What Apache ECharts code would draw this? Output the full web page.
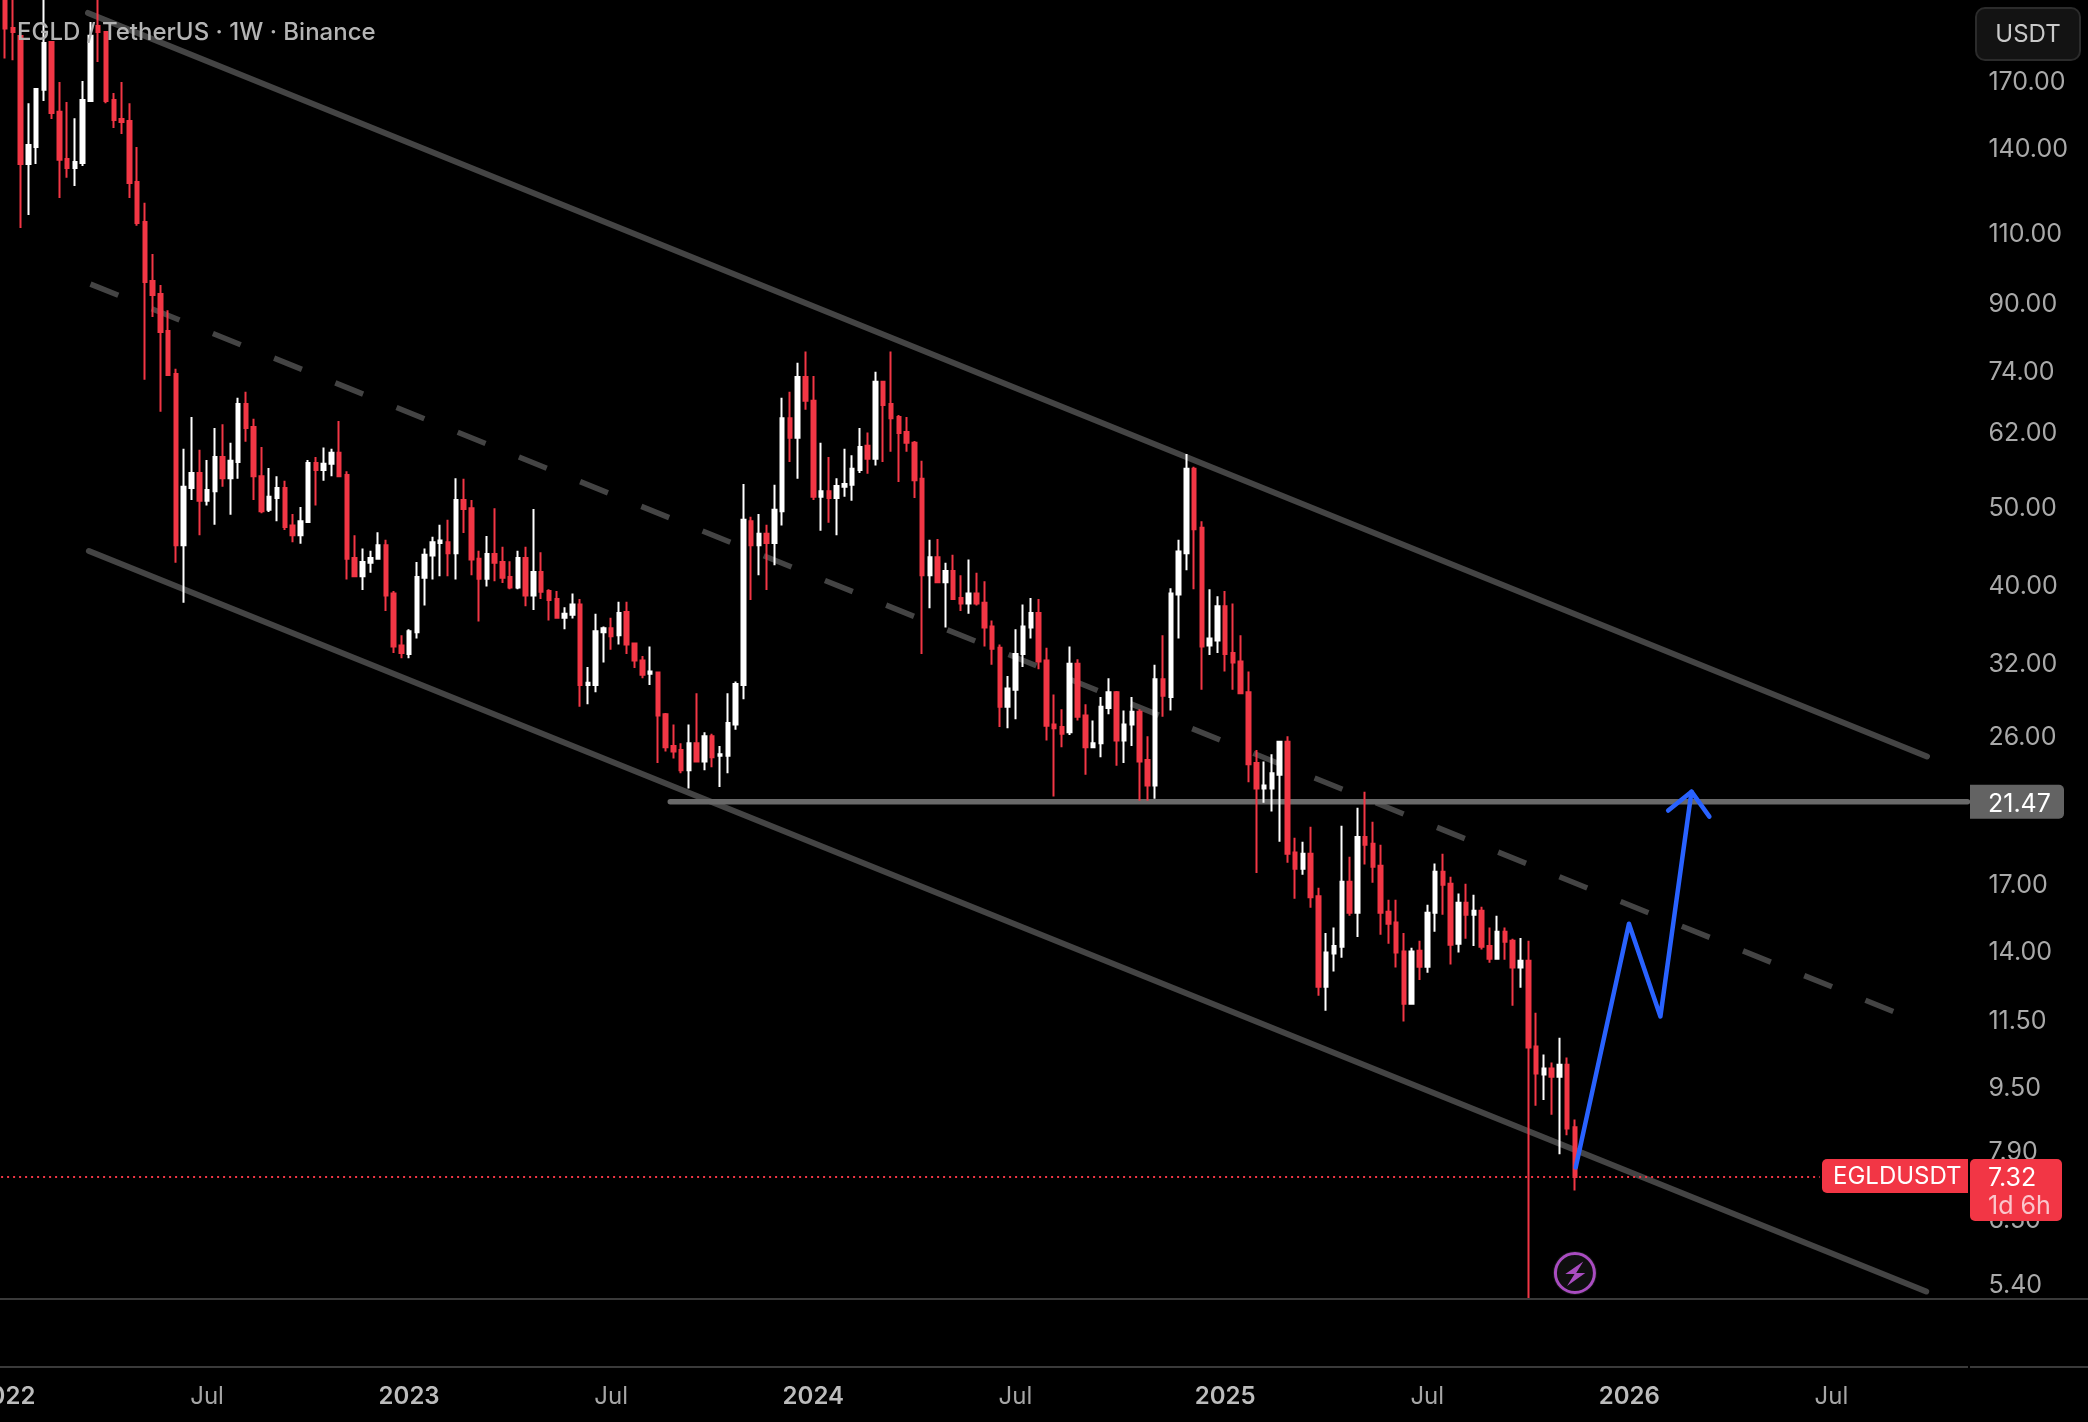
<!DOCTYPE html>
<html>
<head>
<meta charset="utf-8">
<title>EGLD / TetherUS 1W</title>
<script src="https://cdn.jsdelivr.net/npm/echarts@6/dist/echarts.min.js"></script>
<style>
  html, body { margin: 0; padding: 0; background: #000; }
  #chart { width: 2088px; height: 1422px; }
</style>
</head>
<body>
<div id="chart"></div>
<script>
// Weekly EGLD/USDT candles, one value per week starting 2022-01-03.
const opens = [
  225,197.5,193,133.7,140.4,165.4,189.7,155.3,135.6,132.2,
  134.1,160.2,198.6,195.2,160.6,152.1,151.2,127,113.2,95.6,
  92.1,82.8,73.2,44.8,52.8,55.1,50.9,52.3,57.7,54.3,
  56.9,67.2,62.9,54.6,49.6,51.3,52.8,47.4,46.1,47.9,
  56.7,55.6,56.6,58.4,54.8,43.2,41,42.6,43.1,44.8,
  39,33.6,32.8,34.9,40.8,43.5,45.1,45.2,43.8,51,
  49.8,43.1,40.7,43.7,42.7,40.9,39.7,43.2,38.8,41.5,
  39.3,38.4,36.4,36.7,37.8,30,30,34.9,35.3,34.6,
  37,33.8,32.2,31,31.1,27.6,25.2,24.9,23.5,25.4,
  24.1,25.9,24.5,24.5,26.8,30,48,44.8,46.3,45.1,
  49.4,64.5,61,72.6,67.8,51.5,52.3,51.3,53,53.3,
  55.6,59.6,57.4,71.6,67.2,64.7,62,60.1,54.2,41.1,
  43.3,40.3,41.6,38.5,37.9,39,38,35.5,33.4,28.2,
  29.6,32.8,35.4,36.9,32.2,26.8,26.6,26.2,31.9,27.5,
  25.1,25.4,28.1,29.4,25.6,26.8,27.8,24.2,22.5,30.5,
  29,38.9,43.8,55.8,47.1,33.6,34.1,37.6,32.9,32.1,
  29.4,24,22.3,22.3,23.2,25.5,18.56,17.72,18.5,16.37,
  12.63,13.89,14.17,17.07,15.62,19.41,19.03,17.87,15.66,15.18,
  13.97,12.03,14,13.38,15.62,17.56,16.97,14.29,16.07,15.53,
  15.71,14.2,13.69,14.79,14.41,13.35,13.61,10.64,9.82,9.99,
  9.76,10.1,8.44
];
const closes = [
  197.2,195.2,133.7,141.2,165.8,189.2,154.8,135.3,132.2,134.5,
  160.6,193.2,195.2,160.2,151.7,150.8,126.6,112.9,95.3,91.8,
  82.6,73,44.8,53,55.1,50.9,52.5,57.7,54.3,57.1,
  67.2,62.7,54.6,49.4,51.5,52.8,47.2,46.1,48,56.7,
  55.6,56.6,58.4,54.6,43.1,41,42.7,43.2,44.8,38.8,
  33.5,32.9,35,40.9,43.6,45.2,45.4,43.8,51,49.7,
  43,40.7,43.7,42.6,40.8,39.7,43.2,38.8,41.5,39.2,
  38.3,36.4,36.8,37.8,30,30.2,35,35.3,34.5,36.9,
  33.7,32.2,30.9,31.2,27.5,25.1,24.8,23.5,25.4,24.1,
  25.9,24.4,24.6,26.9,30.1,48.2,44.8,46.3,45.1,49.6,
  64.5,61,72.6,67.8,51.5,52.3,51.3,53.1,53.4,55.8,
  59.4,57.4,71.6,67,64.5,61.8,60.1,54,41.1,43.3,
  40.3,41.6,38.4,37.9,39,37.9,35.4,33.3,28.2,29.7,
  32.8,35.5,36.9,32.1,26.7,26.5,26.1,31.9,27.4,25.1,
  25.4,28.2,29.4,25.6,26.8,27.8,24.1,22.5,30.5,29.1,
  39,44,55.8,46.9,33.5,34.3,37.6,32.8,32,29.3,
  23.9,22.3,22.5,23.3,25.5,18.5,17.72,18.5,16.32,12.63,
  13.93,14.2,17.07,15.62,19.41,18.98,17.82,15.62,15.13,13.93,
  12.03,13.97,13.38,15.62,17.56,16.92,14.25,16.07,15.53,15.71,
  14.17,13.69,14.79,14.37,13.35,13.61,10.61,9.85,9.99,9.76,
  10.1,8.41,7.32
];
const lows = [
  180.9,180.1,111.3,115.5,133.7,160.2,152.1,121.3,128.5,125.5,
  132.9,159.7,179.1,159.2,148.3,145.7,121.3,112,72,86.2,
  65.7,72.8,42.6,38,51,46.1,50.2,47.5,53,48.9,
  54.2,60.3,51,49.1,49.3,48,46.8,45.2,45,47.8,
  50.2,53.9,54.6,54.5,40.6,41,39.4,41.4,43,37.1,
  32.9,32.4,32.4,34.3,37.7,40.6,41,41,40.6,46.4,
  41.1,36,39.8,40.4,40.2,39.5,39.5,37.6,37.2,38.4,
  36.1,36.3,35.2,36.3,28.2,28.4,29.4,32,33.2,33.7,
  32.8,31.5,30.6,30,24,24.8,24.3,23.3,22.3,24.1,
  23.5,23.7,22.4,23.3,26.4,28.8,38.3,41.1,39.4,42.3,
  47.4,56.9,54.2,66.1,51,46.7,47.8,46.1,51.5,50.9,
  55.1,55,56.3,56.9,58.6,53.7,58.6,51.3,32.8,37.4,
  40.2,35.4,38.3,37.1,36.8,37.7,33.5,31.8,26.6,26.5,
  27.2,31.6,34.3,31.4,25.6,21.8,25.1,26,27.1,23.2,
  25.1,24.4,27.6,23.8,24,25.2,21.53,21.53,21.65,27.4,
  27.9,34.3,41.7,39.5,29.6,32.7,32.9,31.2,29.6,29.3,
  22.7,17.5,21.41,20.87,19.14,18.03,16.26,17.42,15.84,12.31,
  11.79,13.19,13.73,15.48,14.57,17.93,17.02,14.66,14.29,13.35,
  11.43,12.03,12.88,13.15,14.79,15.53,13.46,13.93,14.49,14.2,
  14.05,13.53,13.65,13.65,11.96,12.59,5.17,8.98,9.13,8.75,
  7.81,8.25,7.04
];
const highs = [
  240,230,193,159.2,166,220,190,169.2,159.7,152.5,
  169.7,200.9,230,195.5,163.9,169.2,159.2,140.4,119.6,103.3,
  94.5,87.9,74.3,59.1,64.7,58.9,57.2,62.7,63.4,60.1,
  68.4,69.6,64.4,59.4,55.9,54.6,53.9,49,50,57.2,
  57.7,59.3,59.1,64,55.4,46.1,44.4,44.1,46.5,45.5,
  39.3,34.6,35.2,42.7,44.4,45.9,47.5,48.2,54.3,54.2,
  51,44.1,46,49.8,44.6,42.8,44.1,44.6,49.7,43.9,
  39.5,39.3,37.5,39,38.4,31.6,36.8,35.5,36.4,38.1,
  38.1,33.9,32.6,33.5,31.2,27.7,26.8,25.4,26.8,29.3,
  26.2,26.1,25.2,29.3,30.3,53.4,48.6,49,47.5,53.3,
  68.4,69.6,75.6,78.1,72.8,60.1,57.7,54.3,59.1,58,
  62.7,61.9,73.7,71.7,78.1,65.1,64.7,60.4,57.1,45.5,
  45.6,42.6,43.6,41.1,43,41.4,40.4,36.1,33.7,30.8,
  35.2,37.8,38.5,38.4,33.4,29.2,28,33.5,32.3,28.4,
  27.1,29,30.6,29.5,27.9,29,28,25.9,31.8,34.6,
  39.6,45.5,58.2,56.1,48,39.5,38.7,39.3,37.9,34.6,
  31.2,24.9,24.1,24.6,25.5,25.9,19.36,19.14,19.98,16.78,
  14.74,14.97,20.04,18.34,21.1,22.09,20.27,18.98,16.21,16.21,
  14.74,14.12,14.41,15.98,17.98,18.5,17.32,16.5,16.97,16.44,
  15.89,14.97,15.48,14.97,14.49,14.53,14.41,11.72,10.4,10.16,
  10.91,10.31,8.63
];

// Drawn tools as [week index, price] pairs.
const channelUpper = [[10.68, 206.2], [247.3, 24.45]];
const channelMiddle = [[11.0, 94.75], [243.0, 11.76]];
const channelLower = [[10.8, 44.07], [247.2, 5.27]];
const levelLine = [[85.6, 21.47], [252.5, 21.47]];
const priceLine = [[-0.5, 7.32], [233.5, 7.32]];
const projectionPath = [[202.1, 7.52], [208.95, 15.13], [213.0, 11.6], [217.0, 22.1]];
const projectionHead = [[214.0, 20.93], [217.0, 22.1], [219.3, 20.57]];

// Axis contents.
const priceTicks = [5.4, 6.5, 7.9, 9.5, 11.5, 14, 17, 26, 32, 40, 50, 62, 74, 90, 110, 140, 170];
const timeTicks = [
  ['2022-01-03', '2022'], ['2022-07-04', 'Jul'], ['2023-01-02', '2023'], ['2023-07-03', 'Jul'],
  ['2024-01-01', '2024'], ['2024-07-01', 'Jul'], ['2025-01-06', '2025'], ['2025-07-07', 'Jul'],
  ['2026-01-05', '2026'], ['2026-07-06', 'Jul']
];

const TOTAL_WEEKS = 253;
const FONT = 'Inter, "Noto Sans", sans-serif';
const RED = '#F23645';
const CHANNEL = '#444444';

const weekDates = [];
for (let i = 0; i < TOTAL_WEEKS; i++) {
  weekDates.push(new Date(Date.UTC(2022, 0, 3 + i * 7)).toISOString().slice(0, 10));
}
const tickLookup = new Map(timeTicks);
const candles = opens.map((o, i) => [o, closes[i], lows[i], highs[i]]);

function toolLine(data, color, width, extra) {
  return Object.assign({
    type: 'line', xAxisIndex: 1, yAxisIndex: 0, data,
    showSymbol: false, silent: true, animation: false, z: 1,
    lineStyle: { color, width, cap: 'round', join: 'round' }
  }, extra || {});
}

const chart = echarts.init(document.getElementById('chart'), null, { renderer: 'canvas' });
chart.setOption({
  backgroundColor: '#000',
  animation: false,
  title: {
    text: 'EGLD / TetherUS · 1W · Binance',
    left: 17, top: 21, padding: 0,
    textStyle: { color: '#b4b4b4', fontFamily: FONT, fontSize: 24, fontWeight: 500 }
  },
  grid: { left: 1.1, top: 0, width: 1966.3, height: 1299, containLabel: false, outerBoundsMode: 'none' },
  xAxis: [
    {
      type: 'category', data: weekDates, boundaryGap: true, offset: 68,
      axisLine: { show: false }, axisTick: { show: false }, splitLine: { show: false },
      axisLabel: {
        interval: (i, d) => tickLookup.has(d),
        margin: 18,
        hideOverlap: false,
        showMinLabel: true,
        formatter: (d) => {
          const t = tickLookup.get(d) || '';
          return t === 'Jul' ? '{m|' + t + '}' : '{y|' + t + '}';
        },
        rich: {
          y: { color: '#bcbcbc', fontFamily: FONT, fontSize: 24, fontWeight: 600 },
          m: { color: '#a6a6a6', fontFamily: FONT, fontSize: 24, fontWeight: 400 }
        }
      }
    },
    { type: 'value', show: false, min: -0.5, max: TOTAL_WEEKS - 0.5, splitLine: { show: false } }
  ],
  yAxis: {
    type: 'log', position: 'right', min: 5.158, max: 214, logBase: 10,
    axisLine: { show: false }, axisTick: { show: false }, splitLine: { show: false },
    minorTick: { show: false }, minorSplitLine: { show: false },
    axisLabel: {
      customValues: priceTicks,
      margin: 21, color: '#a9a9a9', fontFamily: FONT, fontSize: 25,
      verticalAlign: 'top', lineHeight: 4,
      showMinLabel: true, showMaxLabel: true,
      formatter: (v) => Number(v).toFixed(2)
    }
  },
  series: [
    toolLine(channelUpper, CHANNEL, 6),
    toolLine(channelMiddle, CHANNEL, 5.5, { lineStyle: { color: CHANNEL, width: 5.5, type: [30, 36], cap: 'butt' } }),
    toolLine(channelLower, CHANNEL, 6),
    toolLine(levelLine, '#696969', 5.5),
    toolLine(priceLine, RED, 2, { lineStyle: { color: RED, width: 2, type: [2, 4], cap: 'butt' }, z: 1 }),
    {
      type: 'candlestick', xAxisIndex: 0, yAxisIndex: 0, data: candles, z: 2,
      barWidth: 4, silent: true, animation: false, clip: true,
      itemStyle: { color: '#ffffff', color0: RED, borderColor: '#ffffff', borderColor0: RED, borderWidth: 2 }
    },
    toolLine(projectionPath, '#2962FF', 4.5, { z: 3 }),
    toolLine(projectionHead, '#2962FF', 4.5, { z: 3 })
  ]
});

// Price tags and pane chrome, anchored to the price scale.
const lastClose = closes[closes.length - 1];
const lastX = chart.convertToPixel({ xAxisIndex: 0 }, closes.length - 1);
const closeY = chart.convertToPixel({ yAxisIndex: 0 }, lastClose);
const levelY = chart.convertToPixel({ yAxisIndex: 0 }, levelLine[0][1]);
const tagFont = { fontFamily: FONT, fontSize: 25, fill: '#fff' };

function rule(x1, x2, y) {
  return { type: 'line', z: 90, silent: true, shape: { x1, y1: y, x2, y2: y }, style: { stroke: '#3a3a3a', lineWidth: 2 } };
}
function box(x, y, width, height, r, fill, stroke) {
  return { type: 'rect', z: 100, silent: true, shape: { x, y, width, height, r }, style: { fill, stroke: stroke || null, lineWidth: stroke ? 2 : 0 } };
}
function tagText(text, x, y, fill, align, size) {
  return { type: 'text', z: 101, silent: true, style: Object.assign({}, tagFont, { text, x, y, fill, fontSize: size || 25, align: align || 'left', verticalAlign: 'middle' }) };
}

chart.setOption({
  graphic: [
    rule(0, 2088, 1299),
    rule(0, 1968, 1367),
    rule(1970, 2088, 1367),
    box(1976, 8, 104, 52, 9, '#131313', '#2b2b2b'),
    tagText('USDT', 2028, 35, '#c9c9c9', 'center', 24),
    box(1970, levelY - 17, 94, 34, [0, 5, 5, 0], '#636363'),
    tagText('21.47', 1988, levelY + 3, '#ffffff'),
    box(1822, closeY - 18, 146, 34, [5, 0, 0, 5], RED),
    tagText('EGLDUSDT', 1833, closeY, '#ffffff', 'left', 24),
    box(1970, closeY - 18, 92, 62, [5, 5, 5, 5], RED),
    tagText('7.32', 1988, closeY + 2, '#ffffff'),
    tagText('1d 6h', 1988, closeY + 30, '#fbc6cc'),
    {
      type: 'group', x: lastX, y: 1273, z: 100, silent: true,
      children: [
        { type: 'circle', z: 100, shape: { r: 22 }, style: { fill: '#141414' } },
        { type: 'circle', z: 100, shape: { r: 19.5 }, style: { fill: '#0f0f0f', stroke: '#A94CC0', lineWidth: 3 } },
        {
          type: 'polygon', z: 101,
          scaleX: 1.25, scaleY: 1.25,
          shape: { points: [[6.7, -9.3], [-7.7, 0.7], [-0.3, 0.7], [-6.3, 10.3], [8.3, 0], [1, 0]] },
          style: { fill: '#A94CC0' }
        }
      ]
    }
  ]
});
</script>
</body>
</html>
